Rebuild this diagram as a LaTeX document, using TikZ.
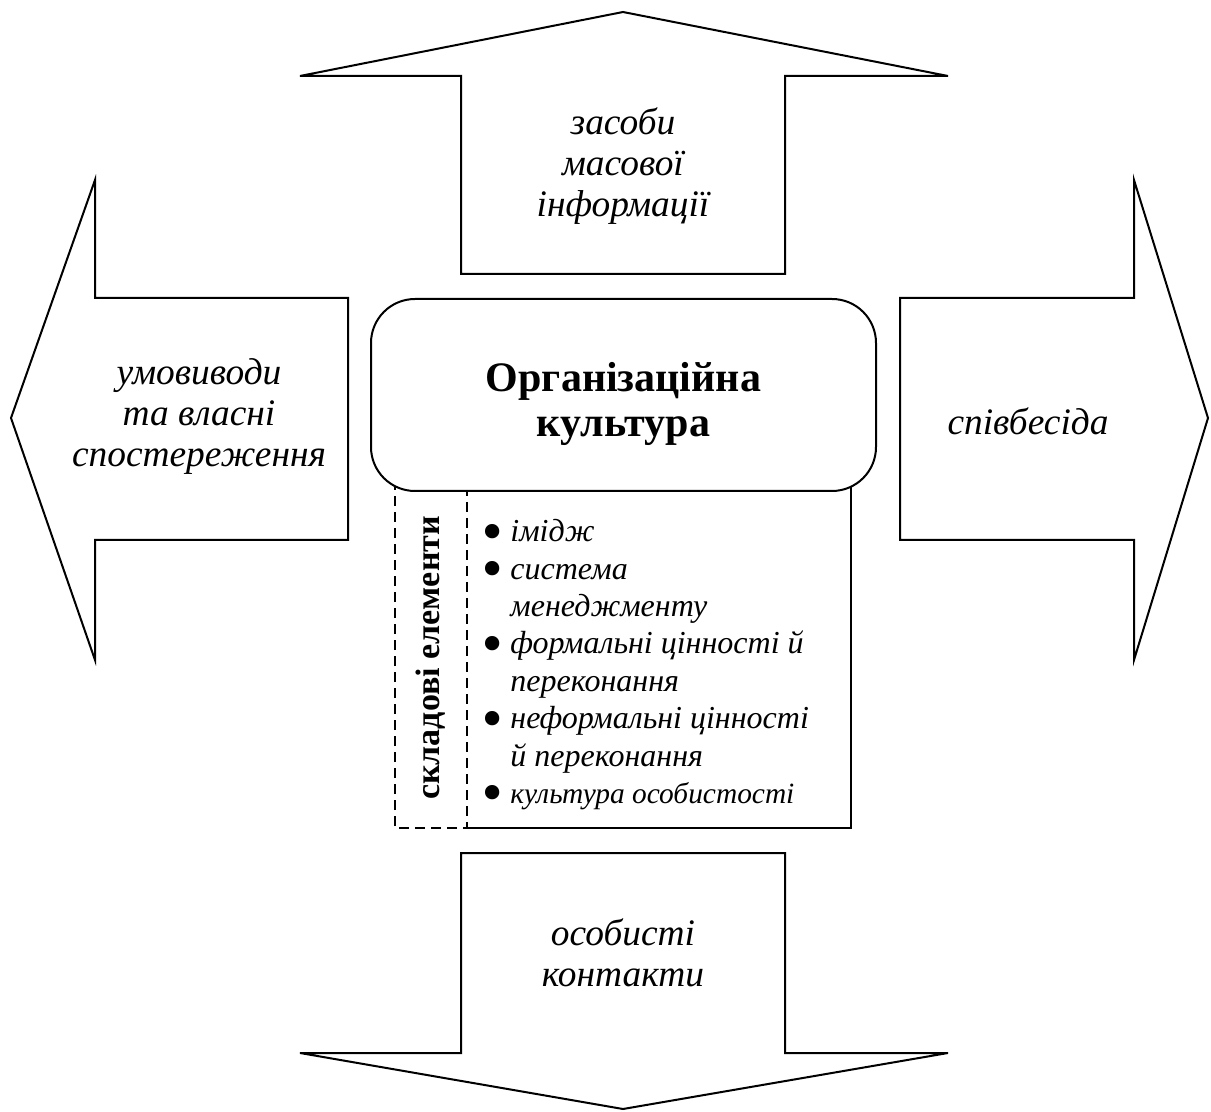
\documentclass[tikz,border=0pt]{standalone}
\usepackage{fontspec}
\setmainfont{Liberation Serif}
\usepackage{tikz}

\newcommand{\itm}{\makebox[11pt][l]{\hspace*{-3.5pt}\smash{\raisebox{-4.7pt}{\fontsize{30}{0}\selectfont\textbullet}}}}
\newcommand{\cnt}{\hspace*{11pt}}

\tikzset{
  bigarrow/.style={draw, line width=1pt, line join=miter},
  arrowtext/.style={align=center, font=\fontsize{18.7}{20.5}\selectfont\itshape}
}

\begin{document}
\begin{tikzpicture}[x=0.5pt, y=-0.5pt]
            \useasboundingbox (0,0) rectangle (1211,1112);
            % four arrows
            \draw[bigarrow] (461,274) -- (461,76) -- (300,76) -- (623,12)
                -- (948,76) -- (785,76) -- (785,274) -- cycle;
            \draw[bigarrow] (461,853) -- (461,1053) -- (300,1053) -- (623,1109)
                -- (948,1053) -- (785,1053) -- (785,853) -- cycle;
            \draw[bigarrow] (348,298) -- (95,298) -- (95,180) -- (11,418)
                -- (95,660) -- (95,540) -- (348,540) -- cycle;
            \draw[bigarrow] (900,298) -- (1134,298) -- (1134,180) -- (1208,418)
                -- (1134,660) -- (1134,540) -- (900,540) -- cycle;
            \node[arrowtext] (media) at (623,166) {засоби\\масової\\інформації};
            \node[arrowtext] (own) at (199,417) {умовиводи\\та власні\\спостереження};
            \node[arrowtext] (talk) at (1028,421) {співбесіда};
            \node[arrowtext] (contacts) at (623,953) {особисті\\контакти};
            % elements box
            \draw[line width=1pt] (467,828) -- (851,828) -- (851,470);
            \draw[line width=0.8pt, dash pattern=on 5pt off 3pt]
                (467,470) -- (467,828) -- (395,828) -- (395,470);
            \node[draw, line width=1pt, fill=white, rounded corners=22pt,
                minimum width=252.5pt, minimum height=96pt] (org) at (623.5,395) {};
            \node[align=center, font=\fontsize{21}{22.5}\selectfont\bfseries] (title)
                at (623.5,404) {Організаційна\\культура};
            \node[rotate=90, font=\fontsize{17}{18}\selectfont\bfseries] (parts) at (431,658)
                {складові елементи};
            \node[anchor=north west, align=left, inner sep=0pt,
                font=\fontsize{16}{18.7}\selectfont\itshape] (items) at (488,519)
                {\itm імідж\\
                 \itm система\\
                 \cnt менеджменту\\
                 \itm формальні цінності й\\
                 \cnt переконання\\
                 \itm неформальні цінності\\
                 \cnt й переконання\\
                 \itm {\fontsize{14.7}{18.7}\selectfont культура особистості}};
        \end{tikzpicture}
\end{document}
